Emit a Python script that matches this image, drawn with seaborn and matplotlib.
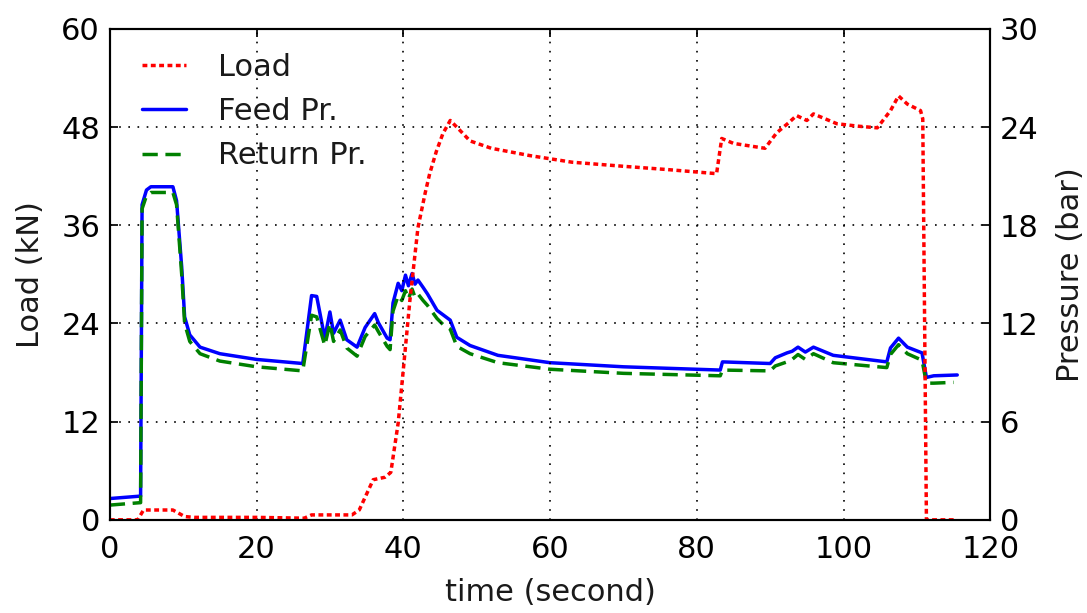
import matplotlib
matplotlib.use("Agg")
import matplotlib.pyplot as plt
import seaborn as sns
import pandas as pd
from matplotlib.lines import Line2D

# ---- data ----------------------------------------------------------------
# Actuator load (kN) against time (s)
t_load = [0, 3.8, 4.6, 8.6, 10.2, 11.5, 20, 26.5, 27.5, 33.0, 34.0, 35.9,
          37.5, 38.3, 39.3, 40.0, 40.9, 42.0, 43.0, 43.6, 44.5, 45.4, 46.4,
          47.5, 49.1, 52.0, 57.3, 63.0, 70.0, 76.0, 82.7, 83.4, 85.0, 89.3,
          90.9, 92.5, 93.6, 95.0, 95.9, 97.5, 99.1, 102.0, 104.6, 106.4,
          107.5, 108.7, 110.5, 110.8, 111.3, 115.2]
load = [0, 0, 1.2, 1.2, 0.4, 0.3, 0.3, 0.2, 0.6, 0.6, 1.2, 4.9,
        5.2, 5.8, 11.8, 18.3, 26.8, 35.7, 40.0, 42.3, 45.0, 47.2, 48.8,
        47.8, 46.3, 45.4, 44.5, 43.7, 43.2, 42.8, 42.3, 46.6, 46.0, 45.4,
        47.3, 48.5, 49.4, 48.8, 49.6, 49.0, 48.4, 48.1, 47.9, 50.0,
        51.8, 50.8, 50.0, 49.0, 0, 0]

# Feed line pressure (bar)
t_feed = [0, 4.2, 4.4, 5.0, 5.6, 8.6, 9.1, 9.8, 10.2, 10.9, 12.3, 15.0,
          20.0, 26.3, 27.5, 28.2, 29.3, 30.0, 30.5, 31.4, 32.3, 33.7, 34.8,
          36.1, 36.6, 37.8, 38.2, 38.6, 39.3, 39.8, 40.3, 40.7, 41.2, 41.6,
          42.0, 42.7, 43.3, 44.6, 45.5, 46.4, 47.3, 49.1, 52.9, 60.0, 70.0,
          83.2, 83.5, 90.0, 90.7, 92.3, 93.0, 93.8, 94.8, 95.9, 98.6, 105.9,
          106.4, 107.5, 108.7, 110.7, 111.3, 112.3, 115.5]
feed = [1.30, 1.45, 19.25, 20.15, 20.35, 20.35, 19.5, 15.45, 12.4, 11.3,
        10.55, 10.15, 9.8, 9.55, 13.7, 13.65, 11.1, 12.7, 11.4, 12.2, 11.0,
        10.55, 11.75, 12.6, 12.05, 11.1, 11.0, 13.25, 14.45, 14.0, 14.95,
        14.3, 15.05, 14.4, 14.65, 14.2, 13.8, 12.8, 12.5, 12.2, 11.15,
        10.65, 10.05, 9.6, 9.35, 9.15, 9.65, 9.55, 9.9, 10.2, 10.3, 10.55,
        10.25, 10.55, 10.05, 9.65, 10.5, 11.1, 10.55, 10.2, 8.7, 8.8, 8.85]

# Return line pressure (bar)
t_ret = [0, 4.2, 4.4, 5.0, 5.6, 8.6, 9.1, 9.8, 10.2, 10.9, 12.3, 15.0,
         20.0, 26.3, 27.5, 28.2, 29.3, 30.0, 30.5, 31.4, 32.3, 33.7, 34.8,
         36.1, 36.6, 37.8, 38.2, 38.6, 39.3, 39.8, 40.3, 40.7, 41.2, 41.6,
         42.0, 42.7, 43.3, 44.6, 45.5, 46.4, 47.3, 49.1, 52.9, 60.0, 70.0,
         83.2, 83.5, 90.0, 90.7, 92.3, 93.0, 93.8, 94.8, 95.9, 98.6, 105.9,
         106.4, 107.5, 108.7, 110.7, 111.3, 112.3, 115.0]
ret = [0.90, 1.05, 19.0, 19.8, 20.0, 20.0, 19.25, 15.0, 12.0, 10.9,
       10.15, 9.7, 9.35, 9.1, 12.5, 12.4, 10.65, 12.0, 10.9, 11.6, 10.5,
       10.0, 11.2, 11.9, 11.5, 10.6, 10.4, 12.75, 13.7, 13.4, 14.0, 13.5,
       14.1, 13.6, 13.8, 13.4, 13.1, 12.3, 11.9, 11.65, 10.6, 10.15, 9.6,
       9.2, 8.95, 8.8, 9.15, 9.1, 9.4, 9.65, 9.8, 10.1, 9.8, 10.15, 9.6,
       9.3, 10.1, 10.7, 10.15, 9.75, 8.35, 8.35, 8.4]

x_ticks = [0, 20, 40, 60, 80, 100, 120]
load_ticks = [0, 12, 24, 36, 48, 60]
pres_ticks = [0, 6, 12, 18, 24, 30]

# ---- styling -------------------------------------------------------------
sns.set_theme(style="white", rc={
    "axes.edgecolor": "black",
    "axes.linewidth": 1.5,
    "xtick.direction": "in",
    "ytick.direction": "in",
    "xtick.major.size": 6,
    "ytick.major.size": 6,
    "xtick.color": "black",
    "ytick.color": "black",
    "text.color": "#1a1a1a",
    "axes.labelcolor": "#1a1a1a",
})
plt.rcParams["font.family"] = ["DejaVu Sans"]

LW = 2.5
LOAD_DASH = (0, (1.4, 1.0))
RET_DASH = (0, (4.4, 2.2))

fig = plt.figure(figsize=(10.87, 6.13), dpi=100)
ax1 = fig.add_axes([0.101, 0.152, 0.810, 0.801])
ax2 = ax1.twinx()
# keep the load axis (and its legend) drawn above the pressure axis
ax1.set_zorder(ax2.get_zorder() + 1)
ax1.patch.set_visible(False)

df_load = pd.DataFrame({"time": t_load, "load": load})
df_feed = pd.DataFrame({"time": t_feed, "pressure": feed})
df_ret = pd.DataFrame({"time": t_ret, "pressure": ret})

sns.lineplot(data=df_feed, x="time", y="pressure", ax=ax2, color="#0000ff",
             linewidth=LW, sort=False, estimator=None, legend=False)
sns.lineplot(data=df_ret, x="time", y="pressure", ax=ax2, color="#008000",
             linewidth=LW, linestyle=RET_DASH, sort=False,
             estimator=None, legend=False)
sns.lineplot(data=df_load, x="time", y="load", ax=ax1, color="#ff0000",
             linewidth=LW, linestyle=LOAD_DASH, sort=False,
             estimator=None, legend=False)

ax1.set_xlim(0, 120)
ax1.set_ylim(0, 60)
ax2.set_ylim(0, 30)
ax1.set_xticks(x_ticks)
ax1.set_yticks(load_ticks)
ax2.set_yticks(pres_ticks)

ax1.grid(True, color="black", linestyle=(0, (1, 4.5)), linewidth=1.2)
ax2.grid(False)

fs = 22
ax1.set_xlabel("time (second)", fontsize=fs, labelpad=10)
ax1.set_ylabel("Load (kN)", fontsize=fs, labelpad=12)
ax2.set_ylabel("Pressure (bar)", fontsize=fs, labelpad=12)
ax1.tick_params(axis="x", labelsize=fs, top=True, pad=11)
ax1.tick_params(axis="y", labelsize=fs, left=True, right=False, pad=7)
ax2.tick_params(axis="y", labelsize=fs, right=True, pad=7)
for ax in (ax1, ax2):
    for s in ax.spines.values():
        s.set_linewidth(1.5)
        s.set_color("black")

handles = [
    Line2D([], [], color="#ff0000", linewidth=LW, linestyle=LOAD_DASH),
    Line2D([], [], color="#0000ff", linewidth=LW),
    Line2D([], [], color="#008000", linewidth=LW, linestyle=RET_DASH),
]
ax1.legend(handles, ["Load", "Feed Pr.", "Return Pr."], loc="upper left",
           frameon=False, fontsize=fs, handlelength=1.45, handletextpad=1.05,
           labelspacing=0.5, borderaxespad=0.3, bbox_to_anchor=(0.012, 0.995))

fig.savefig("out.png", dpi=100)
